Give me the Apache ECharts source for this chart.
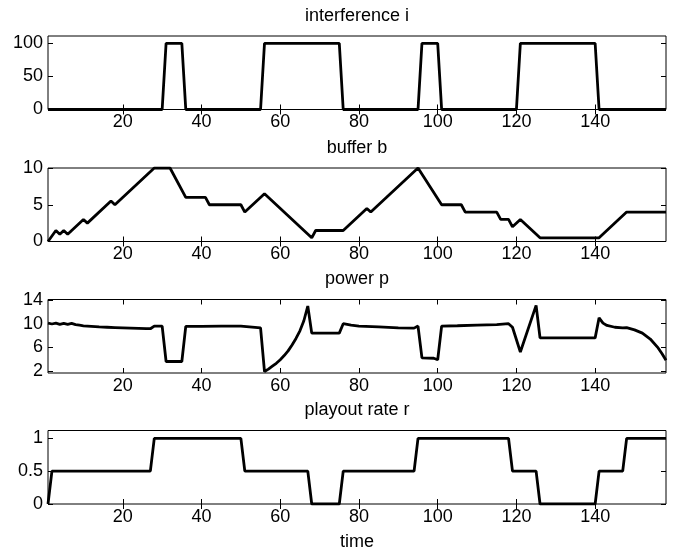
<!DOCTYPE html>
<html>
<head>
<meta charset="utf-8">
<script src="https://cdn.jsdelivr.net/npm/echarts@6/dist/echarts.min.js"></script>
<style>html,body{margin:0;padding:0;background:#fff}#c{width:675px;height:553px}</style>
</head>
<body>
<div id="c"></div>
<script>
// ---- data ----
var titles = ['interference i', 'buffer b', 'power p', 'playout rate r'];
var xTicks = [20, 40, 60, 80, 100, 120, 140];
var yTicks1 = [0, 50, 100];
var yTicks2 = [0, 5, 10];
var yTicks3 = [2, 6, 10, 14];
var yTicks4 = [0, 0.5, 1];

var interference = [[1,0],[30,0],[31,100],[35,100],[36,0],[55,0],[56,100],[75,100],[76,0],
  [95,0],[96,100],[100,100],[101,0],[120,0],[121,100],[140,100],[141,0],[158,0]];

var buffer = [[1,0],[3,1.5],[4,1.0],[5,1.5],[6,1.0],[10,3],[11,2.5],[17,5.5],[18,5],[28,10],[32,10],
  [36,6],[41,6],[42,5],[50,5],[51,4],[56,6.5],[68,0.5],[69,1.5],[76,1.5],[82,4.5],[83,4],[95,10],
  [101,5],[106,5],[107,4],[115,4],[116,3],[118,3],[119,2],[121,3],[126,0.5],[141,0.5],[148,4],[158,4]];

var power = [[1,10.1],[2,9.95],[3,10.1],[4,9.9],[5,10.05],[6,9.9],[7,10.05],[8,9.85],[9,9.75],[10,9.65],
  [12,9.55],[14,9.45],[16,9.4],[18,9.35],[20,9.3],[22,9.25],[24,9.2],[26,9.15],[27,9.15],[28,9.6],[30,9.6],
  [31,3.6],[35,3.6],[36,9.55],[40,9.55],[45,9.6],[50,9.6],[55,9.3],[56,1.9],[57,2.3],[58,2.8],[59,3.3],
  [60,3.9],[61,4.6],[62,5.4],[63,6.4],[64,7.5],[65,8.8],[66,10.5],[67,13.0],[68,8.4],[75,8.4],[76,10.0],
  [78,9.75],[80,9.6],[85,9.45],[90,9.3],[94,9.25],[95,9.6],[96,4.2],[99,4.15],[100,3.9],[101,9.6],
  [105,9.65],[110,9.75],[115,9.85],[118,10.0],[119,9.4],[121,5.2],[125,13.1],[126,7.6],[140,7.6],
  [141,11.0],[142,10.1],[143,9.7],[145,9.4],[147,9.3],[148,9.35],[150,8.95],[152,8.4],[154,7.4],
  [156,5.9],[157,4.9],[158,3.8]];

var playout = [[1,0],[2,0.5],[27,0.5],[28,1],[50,1],[51,0.5],[67,0.5],[68,0],[75,0],[76,0.5],
  [94,0.5],[95,1],[118,1],[119,0.5],[125,0.5],[126,0],[140,0],[141,0.5],[147,0.5],[148,1],[158,1]];

// ---- layout ----
var FONT = 'Liberation Sans, Arial, Helvetica, sans-serif';
var FS = 18;
var tops = [36, 168, 299.5, 430.5];
var H = 73.5, L = 48, R = 9;
var yRanges = [[0, 111, yTicks1], [0, 10, yTicks2], [1.65, 14.1, yTicks3], [0, 1.12, yTicks4]];
var seriesData = [interference, buffer, power, playout];

var grids = [], xAxes = [], yAxes = [], series = [], graphics = [];
for (var k = 0; k < 4; k++) {
  grids.push({left: L, right: R, top: tops[k], height: H, show: true, borderColor: '#000', borderWidth: 1, backgroundColor: 'transparent'});
  var baseX = {gridIndex: k, type: 'value', min: 1, max: 158, splitLine: {show: false},
    axisLine: {show: false}};
  xAxes.push(Object.assign({}, baseX, {position: 'bottom',
    axisTick: {show: true, inside: true, length: 5, lineStyle: {color: '#000'}, customValues: xTicks},
    axisLabel: {show: true, customValues: xTicks, color: '#000', fontFamily: FONT, fontSize: FS, margin: 4}}));
  xAxes.push(Object.assign({}, baseX, {position: 'top',
    axisTick: {show: true, inside: true, length: 5, lineStyle: {color: '#000'}, customValues: xTicks},
    axisLabel: {show: false}}));
  var yr = yRanges[k];
  var baseY = {gridIndex: k, type: 'value', min: yr[0], max: yr[1], splitLine: {show: false}, axisLine: {show: false}};
  yAxes.push(Object.assign({}, baseY, {position: 'left',
    axisTick: {show: true, inside: true, length: 5, lineStyle: {color: '#000'}, customValues: yr[2]},
    axisLabel: {show: true, customValues: yr[2], color: '#000', fontFamily: FONT, fontSize: FS, margin: 5}}));
  yAxes.push(Object.assign({}, baseY, {position: 'right',
    axisTick: {show: true, inside: true, length: 5, lineStyle: {color: '#000'}, customValues: yr[2]},
    axisLabel: {show: false}}));
  series.push({type: 'line', xAxisIndex: 2 * k, yAxisIndex: 2 * k, data: seriesData[k],
    showSymbol: false, symbol: 'none', lineStyle: {color: '#000', width: 2.8}, animation: false});
  graphics.push({type: 'text', x: L + (675 - L - R) / 2, y: tops[k] - 20,
    style: {text: titles[k], textAlign: 'center', textVerticalAlign: 'middle', fill: '#000', font: FS + 'px ' + FONT}});
}
graphics.push({type: 'text', x: L + (675 - L - R) / 2, y: 542,
  style: {text: 'time', textAlign: 'center', textVerticalAlign: 'middle', fill: '#000', font: FS + 'px ' + FONT}});

var chart = echarts.init(document.getElementById('c'), null, {renderer: 'canvas'});
chart.setOption({animation: false, grid: grids, xAxis: xAxes, yAxis: yAxes, series: series, graphic: graphics});
</script>
</body>
</html>
